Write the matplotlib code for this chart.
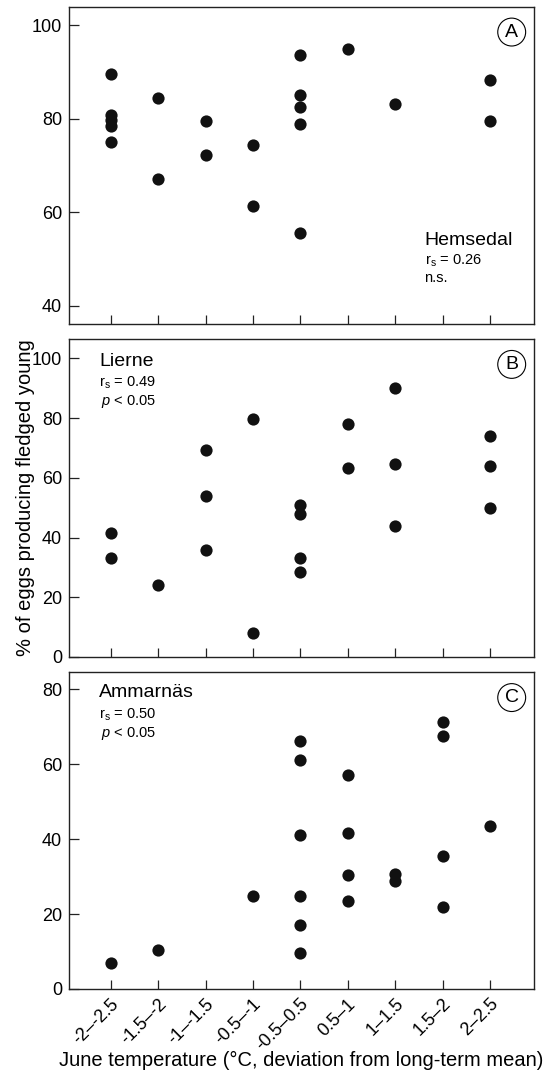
import matplotlib
matplotlib.use('Agg')
import matplotlib.pyplot as plt
from matplotlib.transforms import ScaledTranslation

plt.rcParams['font.family'] = ['Liberation Sans', 'DejaVu Sans']
plt.rcParams['mathtext.fontset'] = 'custom'
plt.rcParams['mathtext.rm'] = 'Liberation Sans'
plt.rcParams['mathtext.it'] = 'Liberation Sans:italic'

# temperature classes (x axis)
categories = ['-2–-2.5', '-1.5–-2', '-1–-1.5', '-0.5–-1', '-0.5–0.5',
              '0.5–1', '1–1.5', '1.5–2', '2–2.5']

# A - Hemsedal
hem_x = [0, 0, 0, 0, 0, 1, 1, 2, 2, 3, 3, 4, 4, 4, 4, 4, 5, 6, 8, 8]
hem_y = [89.5, 80.7, 79.8, 78.5, 75.0, 84.5, 67.0, 79.5, 72.2, 74.3, 61.4,
         93.7, 85.0, 82.5, 78.8, 55.6, 95.0, 83.2, 88.4, 79.5]

# B - Lierne
lie_x = [0, 0, 1, 2, 2, 2, 3, 3, 4, 4, 4, 4, 5, 5, 6, 6, 6, 8, 8, 8]
lie_y = [41.5, 33.1, 24.2, 69.3, 54.0, 35.9, 79.7, 8.0, 50.9, 47.8, 33.1, 28.4,
         78.0, 63.2, 90.2, 64.5, 43.9, 73.9, 64.0, 49.8]

# C - Ammarnäs
amm_x = [0, 1, 3, 4, 4, 4, 4, 4, 4, 5, 5, 5, 5, 6, 6, 7, 7, 7, 7, 8]
amm_y = [6.9, 10.5, 24.7, 66.2, 61.1, 41.0, 24.7, 17.1, 9.6, 57.0, 41.7, 30.5,
         23.5, 30.7, 28.7, 71.2, 67.5, 35.5, 22.0, 43.6]

fig = plt.figure(figsize=(5.56, 10.73), dpi=100)

left, width = 0.1241, 0.8369
axA = fig.add_axes([left, 0.6978, width, 0.2960])
axB = fig.add_axes([left, 0.3877, width, 0.2964])
axC = fig.add_axes([left, 0.0783, width, 0.2952])

panels = [
    (axA, hem_x, hem_y, (36, 104), [40, 60, 80, 100], 'A'),
    (axB, lie_x, lie_y, (0, 106.5), [0, 20, 40, 60, 80, 100], 'B'),
    (axC, amm_x, amm_y, (0, 84.5), [0, 20, 40, 60, 80], 'C'),
]

for ax, xs, ys, ylim, yt, letter in panels:
    ax.plot(xs, ys, 'o', color='#111111', markersize=8.8, markeredgewidth=0)
    ax.set_xlim(-0.88, 8.93)
    ax.set_ylim(*ylim)
    ax.set_yticks(yt)
    ax.set_xticks(range(len(categories)))
    ax.tick_params(direction='in', length=7, width=0.9, color='#222222',
                   labelsize=13, pad=5, top=False, right=False)
    ax.tick_params(axis='x', length=6.5)
    for sp in ax.spines.values():
        sp.set_linewidth(1.0)
        sp.set_color('#222222')
    ax.text(0.9514, 0.92, letter, transform=ax.transAxes, ha='center',
            va='center', fontsize=14,
            bbox=dict(boxstyle='circle,pad=0.28', fc='white', ec='black', lw=0.8))

axA.set_xticklabels([])
axB.set_xticklabels([])
axC.set_xticklabels(categories, rotation=45, ha='right', va='center',
                    rotation_mode='anchor', fontsize=13)
for lab in axC.get_xticklabels():
    lab.set_transform(lab.get_transform() + ScaledTranslation(4 / 72, -4 / 72, fig.dpi_scale_trans))

# site names and statistics
axA.text(0.764, 0.25, 'Hemsedal', transform=axA.transAxes, fontsize=14, va='baseline')
axA.text(0.764, 0.187, r'r$_\mathrm{s}$ = 0.26', transform=axA.transAxes, fontsize=10.5, va='baseline')
axA.text(0.764, 0.133, 'n.s.', transform=axA.transAxes, fontsize=10.5, va='baseline')

axB.text(0.0645, 0.914, 'Lierne', transform=axB.transAxes, fontsize=14, va='baseline')
axB.text(0.0645, 0.851, r'r$_\mathrm{s}$ = 0.49', transform=axB.transAxes, fontsize=10.5, va='baseline')
axB.text(0.069, 0.793, r'$p$ < 0.05', transform=axB.transAxes, fontsize=10.5, va='baseline')

axC.text(0.0645, 0.923, 'Ammarnäs', transform=axC.transAxes, fontsize=14, va='baseline')
axC.text(0.0645, 0.855, r'r$_\mathrm{s}$ = 0.50', transform=axC.transAxes, fontsize=10.5, va='baseline')
axC.text(0.069, 0.795, r'$p$ < 0.05', transform=axC.transAxes, fontsize=10.5, va='baseline')

fig.text(0.045, 0.536, '% of eggs producing fledged young', rotation=90,
         ha='center', va='center', fontsize=14.5)
axC.set_xlabel('June temperature (°C, deviation from long-term mean)', fontsize=14.5)
axC.xaxis.set_label_coords(0.5, -0.197)

fig.savefig('out.png', dpi=100)
